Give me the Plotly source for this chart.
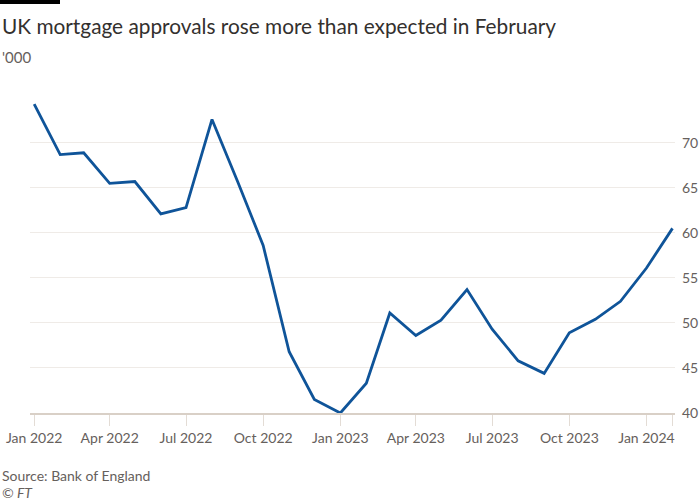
import plotly.graph_objects as go

months = ["2022-01-01", "2022-02-01", "2022-03-01", "2022-04-01", "2022-05-01", "2022-06-01",
          "2022-07-01", "2022-08-01", "2022-09-01", "2022-10-01", "2022-11-01", "2022-12-01",
          "2023-01-01", "2023-02-01", "2023-03-01", "2023-04-01", "2023-05-01", "2023-06-01",
          "2023-07-01", "2023-08-01", "2023-09-01", "2023-10-01", "2023-11-01", "2023-12-01",
          "2024-01-01", "2024-02-01"]
approvals = [74.3, 68.7, 68.9, 65.5, 65.7, 62.1, 62.8, 72.6, 65.6, 58.6, 46.8, 41.5,
             40.0, 43.3, 51.1, 48.6, 50.3, 53.7, 49.3, 45.8, 44.4, 48.9, 50.4, 52.4,
             56.1, 60.5]

x_tickvals = ["2022-01-01", "2022-04-01", "2022-07-01", "2022-10-01", "2023-01-01",
              "2023-04-01", "2023-07-01", "2023-10-01", "2024-01-01", "2024-02-01"]
x_ticktext = ["Jan 2022", "Apr 2022", "Jul 2022", "Oct 2022", "Jan 2023",
              "Apr 2023", "Jul 2023", "Oct 2023", "Jan 2024", ""]
y_tickvals = [40, 45, 50, 55, 60, 65, 70]

FONT = "Lato"
TXT = "#66605c"

fig = go.Figure()
fig.add_trace(go.Scatter(x=months, y=approvals, mode="lines",
                         line=dict(color="#0f5499", width=2.8), hoverinfo="skip"))

fig.update_layout(
    width=700, height=500,
    paper_bgcolor="white", plot_bgcolor="white",
    margin=dict(l=30, r=25, t=96, b=87, autoexpand=False),
    showlegend=False,
    font=dict(family=FONT, size=14, color=TXT),
    xaxis=dict(type="date", range=["2021-12-27", "2024-02-04"], automargin=False,
               tickvals=x_tickvals, ticktext=x_ticktext,
               showgrid=False, showline=True, linecolor="#d9d0c7", linewidth=1.5,
               ticks="outside", ticklen=11, tickcolor="#e3dcd5", tickwidth=1,
               tickfont=dict(family=FONT, size=14, color=TXT), zeroline=False),
    yaxis=dict(side="right", range=[40, 75.2], tickvals=y_tickvals, automargin=False,
               showgrid=True, gridcolor="#efebe7", gridwidth=1,
               ticks="", ticklabelstandoff=6, zeroline=False, showline=False,
               tickfont=dict(family=FONT, size=14, color=TXT)),
)

fig.add_shape(type="rect", xref="paper", yref="paper", x0=-30/645, x1=30/645,
              y0=1 + 92/317, y1=1 + 96/317, fillcolor="black", line_width=0)

fig.add_annotation(text="UK mortgage approvals rose more than expected in February",
                   xref="paper", yref="paper", x=-30/645, y=1 + (96-25)/317,
                   xanchor="left", yanchor="middle", showarrow=False,
                   font=dict(family=FONT, size=20.8, color="#33302e"))
fig.add_annotation(text="'000", xref="paper", yref="paper", x=-30/645, y=1 + (96-57)/317,
                   xanchor="left", yanchor="middle", showarrow=False,
                   font=dict(family=FONT, size=15, color=TXT))
fig.add_annotation(text="Source: Bank of England", xref="paper", yref="paper",
                   x=-30/645, y=-(475-413)/317, xanchor="left", yanchor="middle",
                   showarrow=False, font=dict(family=FONT, size=14, color=TXT))
fig.add_annotation(text="<i>© FT</i>", xref="paper", yref="paper",
                   x=-30/645, y=-(492-413)/317, xanchor="left", yanchor="middle",
                   showarrow=False, font=dict(family=FONT, size=14, color=TXT))

fig.write_html("out.html", config={"displayModeBar": False},
               post_script="document.body.style.margin='0';document.body.style.overflow='hidden';")
